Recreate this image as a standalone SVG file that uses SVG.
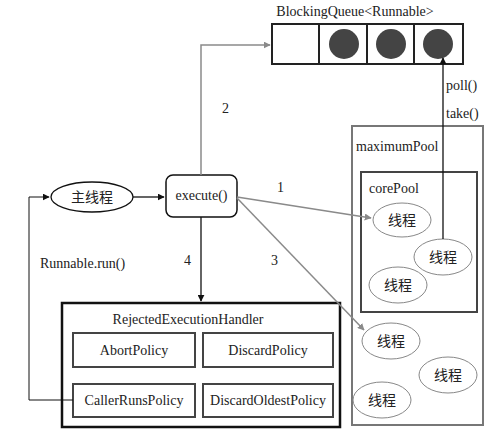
<svg xmlns="http://www.w3.org/2000/svg" width="486" height="433" viewBox="0 0 486 433">
<style>
text{font-family:"Liberation Serif","Noto Sans CJK SC",serif;font-size:14px;fill:#222}
.cjk{font-family:"Noto Sans CJK SC",sans-serif;font-size:14px}
.th{fill:#fff;stroke:#888;stroke-width:1}
.gl{stroke:#8a8a8a;stroke-width:1.5;fill:none}
.bl{stroke:#111;stroke-width:1.3;fill:none}
.pol{fill:#fff;stroke:#444;stroke-width:2}
</style>
<defs>
<marker id="ag" viewBox="0 0 10 10" refX="9" refY="5" markerWidth="7" markerHeight="7" orient="auto" markerUnits="userSpaceOnUse"><path d="M0,0L10,5L0,10z" fill="#8a8a8a"/></marker>
<marker id="ab" viewBox="0 0 10 10" refX="9" refY="5" markerWidth="7" markerHeight="7" orient="auto" markerUnits="userSpaceOnUse"><path d="M0,0L10,5L0,10z" fill="#111"/></marker>
</defs>
<rect width="486" height="433" fill="#fff"/>
<g id="queue">
<text x="355" y="16" text-anchor="middle">BlockingQueue&lt;Runnable&gt;</text>
<rect x="272" y="24" width="191" height="40" fill="#fff" stroke="#222" stroke-width="2"/>
<line x1="319" y1="24" x2="319" y2="64" stroke="#222" stroke-width="2"/>
<line x1="367" y1="24" x2="367" y2="64" stroke="#222" stroke-width="2"/>
<line x1="414" y1="24" x2="414" y2="64" stroke="#222" stroke-width="2"/>
<circle cx="344" cy="44" r="15" fill="#444"/>
<circle cx="391" cy="44" r="15" fill="#444"/>
<circle cx="438" cy="44" r="15" fill="#444"/>
</g>
<g id="maximumPool">
<rect x="352" y="126" width="131" height="299" fill="none" stroke="#777" stroke-width="2"/>
<text x="356" y="151">maximumPool</text>
</g>
<g id="corePool">
<rect x="361" y="172" width="116" height="140" fill="none" stroke="#444" stroke-width="2"/>
<text x="369" y="193">corePool</text>
</g>
<g id="t1"><ellipse class="th" cx="402" cy="220" rx="29" ry="17"/><text class="cjk" x="402" y="225" text-anchor="middle">线程</text></g>
<g id="t2"><ellipse class="th" cx="443" cy="257" rx="29" ry="18"/><text class="cjk" x="443" y="262" text-anchor="middle">线程</text></g>
<g id="t3"><ellipse class="th" cx="398" cy="285" rx="29" ry="18"/><text class="cjk" x="398" y="290" text-anchor="middle">线程</text></g>
<g id="t4"><ellipse class="th" cx="391" cy="341" rx="29" ry="18"/><text class="cjk" x="391" y="346" text-anchor="middle">线程</text></g>
<g id="t5"><ellipse class="th" cx="448" cy="375" rx="29" ry="18"/><text class="cjk" x="448" y="380" text-anchor="middle">线程</text></g>
<g id="t6"><ellipse class="th" cx="382" cy="400" rx="29" ry="18"/><text class="cjk" x="382" y="405" text-anchor="middle">线程</text></g>
<g id="main"><ellipse cx="92" cy="197" rx="41" ry="15" fill="#fff" stroke="#111" stroke-width="1.3"/><text class="cjk" x="92" y="202" text-anchor="middle">主线程</text></g>
<g id="execute"><rect x="166" y="175" width="71" height="42" rx="7" fill="#fff" stroke="#111" stroke-width="1.5"/><text x="201.5" y="200" text-anchor="middle">execute()</text></g>
<g id="handler">
<rect x="62" y="303" width="278" height="124" fill="#fff" stroke="#111" stroke-width="2.5"/>
<text x="188" y="324" text-anchor="middle">RejectedExecutionHandler</text>
<rect class="pol" x="73" y="333" width="122" height="34"/><text x="134" y="355" text-anchor="middle">AbortPolicy</text>
<rect class="pol" x="203" y="333" width="130" height="34"/><text x="268" y="355" text-anchor="middle">DiscardPolicy</text>
<rect class="pol" x="73" y="384" width="122" height="33"/><text x="134" y="405" text-anchor="middle">CallerRunsPolicy</text>
<rect class="pol" x="203" y="384" width="130" height="33"/><text x="268" y="405" text-anchor="middle">DiscardOldestPolicy</text>
</g>
<g id="connectors">
<path class="gl" d="M201,175V45H270" marker-end="url(#ag)"/>
<line class="gl" x1="237" y1="197" x2="371" y2="218" marker-end="url(#ag)"/>
<line class="gl" x1="237" y1="198" x2="364" y2="330" marker-end="url(#ag)"/>
<line class="bl" x1="443" y1="239" x2="443" y2="58" marker-end="url(#ab)"/>
<line class="bl" x1="133" y1="197" x2="164" y2="197" marker-end="url(#ab)"/>
<line class="bl" x1="201" y1="217" x2="201" y2="301" marker-end="url(#ab)"/>
<path d="M73,400H29V197H49" fill="none" stroke="#111" stroke-width="1" marker-end="url(#ab)"/>
<text x="222" y="113">2</text>
<text x="446" y="90">poll()</text>
<text x="446" y="118">take()</text>
<text x="277" y="192">1</text>
<text x="271" y="265">3</text>
<text x="184" y="265">4</text>
<text x="40" y="268">Runnable.run()</text>
</g>
</svg>
